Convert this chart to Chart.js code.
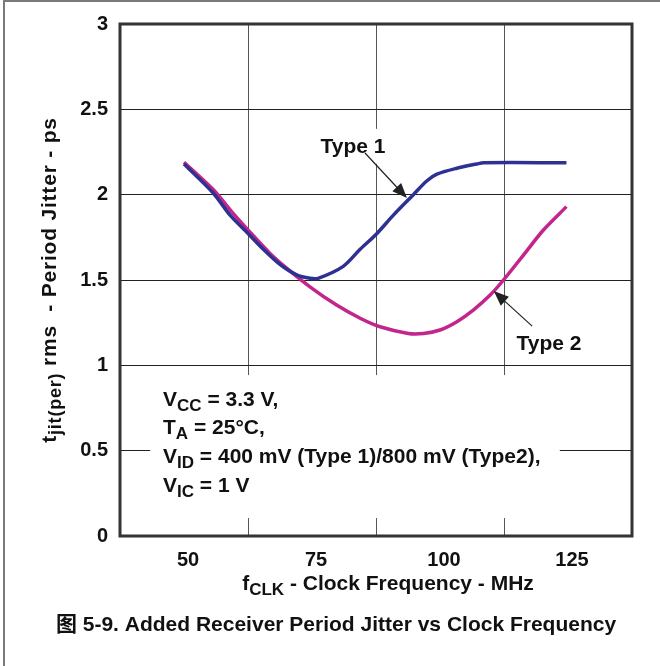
<!DOCTYPE html>
<html>
<head>
<meta charset="utf-8">
<script src="https://cdn.jsdelivr.net/npm/chart.js@4.4.1/dist/chart.umd.min.js"></script>
<style>
  html, body { margin: 0; padding: 0; background: #fff; }
  #wrap { width: 660px; height: 666px; position: relative; }
</style>
</head>
<body>
<div id="wrap"><canvas id="chart" width="660" height="666"></canvas></div>
<script>
// values (clock frequency in MHz, period jitter in ps)
var freqType1 = [50, 55.7, 59, 62.6, 65.5, 68.8, 72, 74.6, 76.2, 81.1, 84.4, 87.6, 90.9, 94.8, 97.4, 99.4, 103.3, 107.2, 108.5, 124.7];
var jitterType1 = [2.18, 2.01, 1.88, 1.77, 1.68, 1.59, 1.53, 1.51, 1.51, 1.58, 1.68, 1.77, 1.88, 2.0, 2.08, 2.12, 2.155, 2.18, 2.187, 2.187];
var freqType2 = [50, 55.7, 59.6, 62.9, 66.8, 70.1, 74.6, 79.8, 84.4, 88.3, 93.8, 96.8, 100, 103.3, 106.5, 109.8, 112.4, 116.3, 120.2, 124.7];
var jitterType2 = [2.19, 2.03, 1.89, 1.78, 1.656, 1.568, 1.46, 1.353, 1.276, 1.226, 1.187, 1.187, 1.207, 1.256, 1.324, 1.412, 1.5, 1.646, 1.793, 1.93];
var xTickValues = [50, 75, 100, 125];
var xGridValues = [62.5, 87.5, 112.5];

var FONT = '"Liberation Sans", Arial, "Noto Sans CJK SC", sans-serif';
var INK = '#111';
var TXT = 21, SUB = 17;

function toPoints(xs, ys) {
  return xs.map(function (x, i) { return { x: x, y: ys[i] }; });
}

// draws a run of text pieces, some of them subscripts
function richWidth(ctx, parts, size, subSize) {
  var w = 0;
  parts.forEach(function (p) {
    ctx.font = 'bold ' + (p.sub ? subSize : size) + 'px ' + FONT;
    w += ctx.measureText(p.t).width;
  });
  return w;
}
function drawRich(ctx, parts, x, y, size, subSize, align) {
  var w = richWidth(ctx, parts, size, subSize);
  var cx = align === 'center' ? x - w / 2 : x;
  ctx.textAlign = 'left';
  ctx.textBaseline = 'alphabetic';
  parts.forEach(function (p) {
    ctx.font = 'bold ' + (p.sub ? subSize : size) + 'px ' + FONT;
    ctx.fillText(p.t, cx, p.sub ? y + 5 : y);
    cx += ctx.measureText(p.t).width;
  });
}

function drawArrow(ctx, x1, y1, x2, y2) {
  var a = Math.atan2(y2 - y1, x2 - x1);
  ctx.save();
  ctx.strokeStyle = '#222';
  ctx.fillStyle = '#222';
  ctx.lineWidth = 1.2;
  ctx.beginPath();
  ctx.moveTo(x1, y1);
  ctx.lineTo(x2 - 10 * Math.cos(a), y2 - 10 * Math.sin(a));
  ctx.stroke();
  ctx.beginPath();
  ctx.moveTo(x2, y2);
  ctx.lineTo(x2 - 15 * Math.cos(a) + 6 * Math.sin(a), y2 - 15 * Math.sin(a) - 6 * Math.cos(a));
  ctx.lineTo(x2 - 15 * Math.cos(a) - 6 * Math.sin(a), y2 - 15 * Math.sin(a) + 6 * Math.cos(a));
  ctx.closePath();
  ctx.fill();
  ctx.restore();
}

var conditions = [
  [{ t: 'V' }, { t: 'CC', sub: true }, { t: ' = 3.3 V,' }],
  [{ t: 'T' }, { t: 'A', sub: true }, { t: ' = 25°C,' }],
  [{ t: 'V' }, { t: 'ID', sub: true }, { t: ' = 400 mV (Type 1)/800 mV (Type2),' }],
  [{ t: 'V' }, { t: 'IC', sub: true }, { t: ' = 1 V' }]
];
var conditionBaselines = [0.762, 0.598, 0.428, 0.258];

var decor = {
  id: 'decor',
  beforeDatasetsDraw: function (chart) {
    var ctx = chart.ctx, xs = chart.scales.x, ys = chart.scales.y;
    ctx.save();
    ctx.fillStyle = '#fff';
    // blank out grid behind the conditions block and the "Type 1" label
    var l = xs.getPixelForValue(43.4), r = xs.getPixelForValue(123.4);
    var t = ys.getPixelForValue(0.943), b = ys.getPixelForValue(0.105);
    ctx.fillRect(l, t, r - l, b - t);
    var tx = xs.getPixelForValue(83), ty = ys.getPixelForValue(2.28);
    ctx.fillRect(tx - 40, ty - 18, 80, 35);
    ctx.restore();
  },
  afterDatasetsDraw: function (chart) {
    var ctx = chart.ctx, xs = chart.scales.x, ys = chart.scales.y, a = chart.chartArea;
    ctx.save();
    ctx.strokeStyle = '#333';
    ctx.lineWidth = 3;
    ctx.strokeRect(a.left, a.top, a.right - a.left, a.bottom - a.top);

    ctx.fillStyle = INK;
    ctx.font = 'bold ' + TXT + 'px ' + FONT;
    ctx.textAlign = 'center';
    ctx.textBaseline = 'middle';
    ctx.fillText('Type 1', xs.getPixelForValue(83), ys.getPixelForValue(2.28));
    ctx.fillText('Type 2', xs.getPixelForValue(121.3), ys.getPixelForValue(1.125));
    drawArrow(ctx, xs.getPixelForValue(85.35), ys.getPixelForValue(2.244), xs.getPixelForValue(93.55), ys.getPixelForValue(1.98));
    drawArrow(ctx, xs.getPixelForValue(118), ys.getPixelForValue(1.23), xs.getPixelForValue(110.5), ys.getPixelForValue(1.435));

    conditions.forEach(function (line, i) {
      drawRich(ctx, line, xs.getPixelForValue(45.9), ys.getPixelForValue(conditionBaselines[i]), TXT, SUB, 'left');
    });
    ctx.restore();
  },
  afterDraw: function (chart) {
    var ctx = chart.ctx;
    ctx.save();
    ctx.fillStyle = INK;
    // x axis title
    drawRich(ctx, [{ t: 'f' }, { t: 'CLK', sub: true }, { t: ' - Clock Frequency - MHz' }], 388, 590, TXT, SUB, 'center');
    // y axis title, rotated
    ctx.translate(56, 280);
    ctx.rotate(-Math.PI / 2);
    ctx.letterSpacing = '0.8px';
    drawRich(ctx, [{ t: 't' }, { t: 'jit(per)', sub: true }, { t: ' rms  - Period Jitter - ps' }], 0, 0, TXT, 18, 'center');
    ctx.restore();

    ctx.save();
    ctx.fillStyle = INK;
    ctx.font = 'bold ' + TXT + 'px ' + FONT;
    ctx.textAlign = 'center';
    ctx.textBaseline = 'alphabetic';
    ctx.fillText('图 5-9. Added Receiver Period Jitter vs Clock Frequency', 336, 631);
    // page frame, left and top edges only
    ctx.fillStyle = '#7a7a7a';
    ctx.fillRect(3, 0, 2, 666);
    ctx.fillRect(3, 0, 657, 2);
    ctx.restore();
  }
};

var chart = new Chart(document.getElementById('chart'), {
  type: 'line',
  data: {
    datasets: [
      {
        label: 'Type 1',
        data: toPoints(freqType1, jitterType1),
        borderColor: '#2e3192',
        borderWidth: 3.5,
        pointRadius: 0,
        tension: 0.3,
        fill: false
      },
      {
        label: 'Type 2',
        data: toPoints(freqType2, jitterType2),
        borderColor: '#c2258c',
        borderWidth: 3.5,
        pointRadius: 0,
        tension: 0.3,
        fill: false
      }
    ]
  },
  options: {
    responsive: false,
    animation: false,
    layout: { padding: { left: 10, top: 24, right: 28, bottom: 90 } },
    plugins: { legend: { display: false }, tooltip: { enabled: false } },
    scales: {
      x: {
        type: 'linear',
        min: 37.5,
        max: 137.5,
        afterBuildTicks: function (s) {
          s.ticks = xTickValues.concat(xGridValues).sort(function (p, q) { return p - q; })
            .map(function (v) { return { value: v }; });
        },
        afterFit: function (s) { s.height = 40; },
        ticks: {
          autoSkip: false,
          maxRotation: 0,
          padding: 12,
          labelOffset: 4,
          color: INK,
          font: { family: FONT, size: 20, weight: 'bold' },
          callback: function (v) { return xTickValues.indexOf(v) >= 0 ? String(v) : ''; }
        },
        grid: {
          drawTicks: false,
          lineWidth: 1,
          color: function (c) { return xGridValues.indexOf(c.tick.value) >= 0 ? '#555' : 'rgba(0,0,0,0)'; }
        },
        border: { display: false }
      },
      y: {
        min: 0,
        max: 3,
        afterFit: function (s) { s.width = 110; },
        ticks: {
          stepSize: 0.5,
          padding: 12,
          color: INK,
          font: { family: FONT, size: 20, weight: 'bold' },
          callback: function (v) { return String(v); }
        },
        grid: { drawTicks: false, color: '#222', lineWidth: 1 },
        border: { display: false }
      }
    }
  },
  plugins: [decor]
});
</script>
</body>
</html>
